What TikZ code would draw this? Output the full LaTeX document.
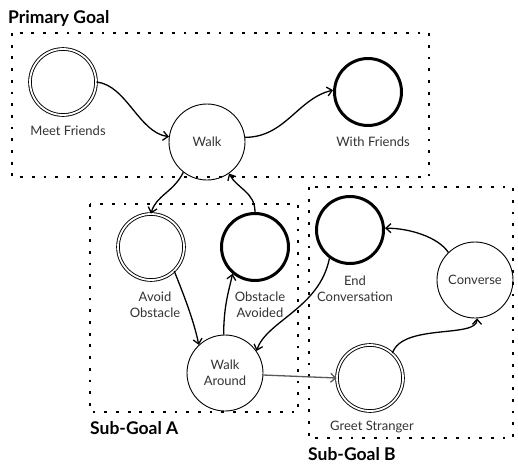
\documentclass[tikz,border=0pt]{standalone}
\usepackage{fontspec}
\setmainfont{Lato}
\usetikzlibrary{arrows.meta}
\begin{document}
\begin{tikzpicture}[x=1pt,y=-1pt,
  goalbox/.style={draw, line width=2.8pt, dash pattern=on 2.8pt off 8.9pt},
  goaltitle/.style={anchor=base west, inner sep=0pt, font=\fontsize{17.5}{20}\selectfont\bfseries},
  state/.style={circle, draw, inner sep=0pt, align=center, text=black!80,
    font=\fontsize{13}{16}\selectfont},
  plain/.style={state, line width=0.9pt, minimum size=76pt},
  final/.style={state, line width=3pt, minimum size=67pt},
  start/.style={state, double, double distance=1.8pt, line width=0.9pt, minimum size=66pt},
  caption/.style={align=center, inner sep=0pt, text=black!80,
    font=\fontsize{13}{16}\selectfont},
  move/.style={-{Straight Barb[length=5pt,width=9pt,line width=1.3pt]}, line width=1.3pt},
]
\fill[white] (0,0) rectangle (518,463);
\useasboundingbox (0,0) rectangle (518,463);

% goal regions
\draw[goalbox] (12,33) rectangle (429,177);
\draw[goalbox] (90,204) rectangle (298,412);
\draw[goalbox] (309,187) rectangle (513,438);
\node[goaltitle] (tprimary) at (8,23) {Primary Goal};
\node[goaltitle] (tsuba) at (90,434) {Sub-Goal A};
\node[goaltitle] (tsubb) at (308,460) {Sub-Goal B};

% states
\node[start] (mf) at (63,82) {};
\node[caption] (mfl) at (68,131) {Meet Friends};
\node[plain] (walk) at (207,142) {Walk};
\node[final] (wf) at (368,92) {};
\node[caption] (wfl) at (373,142) {With Friends};

\node[start] (ao) at (151,247) {};
\node[caption] (aol) at (155,305) {Avoid\\Obstacle};
\node[final] (oa) at (255,247) {};
\node[caption] (oal) at (260,305) {Obstacle\\Avoided};
\node[plain] (wa) at (225,373) {Walk\\Around};

\node[final] (ec) at (350,230) {};
\node[caption] (ecl) at (355,289) {End\\Conversation};
\node[plain] (cv) at (475,280) {Converse};
\node[start] (gs) at (370,378) {};
\node[caption] (gsl) at (372,427) {Greet Stranger};

% transitions
\draw[move] (mf.east) .. controls +(30,3) and +(-30,-4) .. (walk.172);
\draw[move] (walk.7) .. controls +(40,0) and +(-35,8) .. (wf.177);
\draw[move] (walk.232) .. controls +(-10,20) and +(5,-18) .. (ao.north);
\draw[move] (oa.north) .. controls +(0,-20) and +(8,15) .. (walk.305);
\draw[move] (ao.314) .. controls +(8,20) and +(-5,-25) .. (wa.133);
\draw[move] (wa.92) .. controls +(0,-30) and +(-3,15) .. (oa.230);
\draw[move] (ec.234) .. controls +(-10,50) and +(10,-30) .. (wa.35);
\draw[move, draw=black!65] (wa.-3) -- (gs.west);
\draw[move] (gs.48) .. controls +(10,-30) and +(0,20) .. (cv.273);
\draw[move] (cv.134) .. controls +(-10,-15) and +(25,0) .. (ec.3);
\end{tikzpicture}
\end{document}
